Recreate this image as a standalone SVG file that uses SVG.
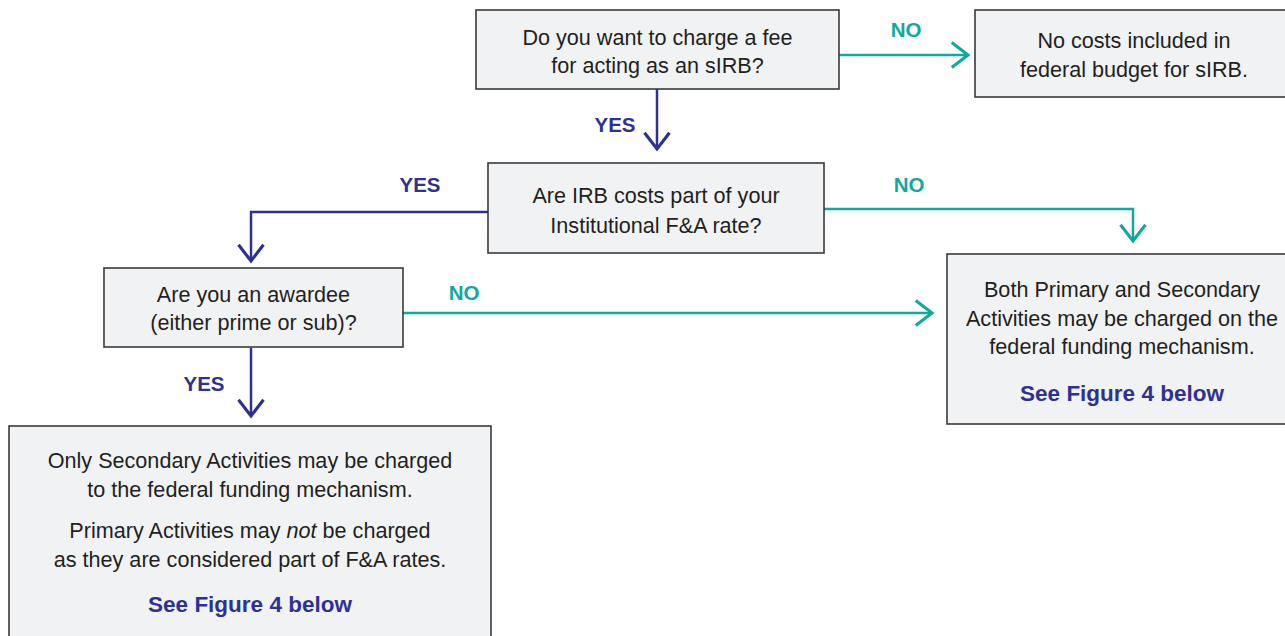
<svg xmlns="http://www.w3.org/2000/svg" width="1285" height="636" viewBox="0 0 1285 636">
<style>
.box{fill:#f1f2f4;stroke:#3a3a3a;stroke-width:1.6}
.t{font-family:"Liberation Sans",Arial,sans-serif;font-size:21.6px;fill:#231f20;text-anchor:middle}
.lbl{font-family:"Liberation Sans",Arial,sans-serif;font-size:20.5px;font-weight:bold;text-anchor:middle}
.yes{fill:#2e3192}
.no{fill:#12a89d}
.cy{fill:none;stroke:#2e3192;stroke-width:2.5}
.cn{fill:none;stroke:#12a89d;stroke-width:2.5}
.see{font-family:"Liberation Sans",Arial,sans-serif;font-size:22.5px;font-weight:bold;fill:#2e3192;text-anchor:middle}
</style>
<defs>
<marker id="ay" markerUnits="userSpaceOnUse" markerWidth="30" markerHeight="30" viewBox="-16 -12 18 24" refX="0" refY="0" orient="auto">
<path d="M-13,-10 L0,0 L-13,10" fill="none" stroke="#2e3192" stroke-width="2.5"/>
</marker>
<marker id="an" markerUnits="userSpaceOnUse" markerWidth="30" markerHeight="30" viewBox="-16 -12 18 24" refX="0" refY="0" orient="auto">
<path d="M-13,-10 L0,0 L-13,10" fill="none" stroke="#12a89d" stroke-width="2.5"/>
</marker>
</defs>
<g id="connectors">
<path class="cn" d="M839,55 H968" marker-end="url(#an)"/>
<path class="cy" d="M657,89 V149" marker-end="url(#ay)"/>
<path class="cy" d="M488,212 H251 V261" marker-end="url(#ay)"/>
<path class="cn" d="M824,209 H1133 V241" marker-end="url(#an)"/>
<path class="cn" d="M403,313 H932" marker-end="url(#an)"/>
<path class="cy" d="M251,348 V416" marker-end="url(#ay)"/>
<text class="lbl no" x="906" y="37">NO</text>
<text class="lbl yes" x="615" y="132">YES</text>
<text class="lbl yes" x="420" y="192">YES</text>
<text class="lbl no" x="909" y="192">NO</text>
<text class="lbl no" x="464" y="300">NO</text>
<text class="lbl yes" x="204" y="391">YES</text>
</g>
<g id="q1">
<rect class="box" x="476" y="10" width="363" height="79"/>
<text class="t" x="657.5" y="45">Do you want to charge a fee</text>
<text class="t" x="657.5" y="73">for acting as an sIRB?</text>
</g>
<g id="nocost">
<rect class="box" x="975" y="10" width="320" height="87"/>
<text class="t" x="1134" y="48">No costs included in</text>
<text class="t" x="1134" y="77">federal budget for sIRB.</text>
</g>
<g id="q2">
<rect class="box" x="488" y="163" width="336" height="90"/>
<text class="t" x="656" y="203">Are IRB costs part of your</text>
<text class="t" x="656" y="233">Institutional F&amp;A rate?</text>
</g>
<g id="q3">
<rect class="box" x="104" y="268" width="299" height="79"/>
<text class="t" x="253.5" y="302">Are you an awardee</text>
<text class="t" x="253.5" y="330">(either prime or sub)?</text>
</g>
<g id="both">
<rect class="box" x="947" y="254" width="348" height="170"/>
<text class="t" x="1122" y="297">Both Primary and Secondary</text>
<text class="t" x="1122" y="326">Activities may be charged on the</text>
<text class="t" x="1122" y="354">federal funding mechanism.</text>
<text class="see" x="1122" y="401">See Figure 4 below</text>
</g>
<g id="secondary">
<rect class="box" x="9" y="426" width="482" height="220"/>
<text class="t" x="250" y="468">Only Secondary Activities may be charged</text>
<text class="t" x="250" y="497">to the federal funding mechanism.</text>
<text class="t" x="250" y="538">Primary Activities may <tspan font-style="italic">not</tspan> be charged</text>
<text class="t" x="250" y="567">as they are considered part of F&amp;A rates.</text>
<text class="see" x="250" y="612">See Figure 4 below</text>
</g>
</svg>
